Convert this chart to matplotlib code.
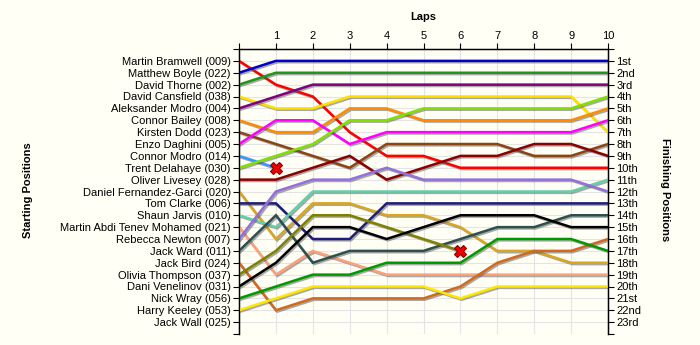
import matplotlib
matplotlib.use("Agg")
import matplotlib.pyplot as plt
import matplotlib.patheffects as pe

plt.rcParams['font.family'] = ['Liberation Sans', 'DejaVu Sans']

laps = list(range(11))
lap_labels = [""] + [str(i) for i in range(1, 11)]

drivers = ["Martin Bramwell (009)", "Matthew Boyle (022)", "David Thorne (002)",
           "David Cansfield (038)", "Aleksander Modro (004)", "Connor Bailey (008)",
           "Kirsten Dodd (023)", "Enzo Daghini (005)", "Connor Modro (014)",
           "Trent Delahaye (030)", "Oliver Livesey (028)", "Daniel Fernandez-Garci (020)",
           "Tom Clarke (006)", "Shaun Jarvis (010)", "Martin Abdi Tenev Mohamed (021)",
           "Rebecca Newton (007)", "Jack Ward (011)", "Jack Bird (024)",
           "Olivia Thompson (037)", "Dani Venelinov (031)", "Nick Wray (056)",
           "Harry Keeley (053)", "Jack Wall (025)"]

finish_labels = ["1st", "2nd", "3rd"] + ["%dth" % i for i in range(4, 21)] + ["21st", "22nd", "23rd"]

# position of each driver at each lap (shorter row = retired)
positions = [
    [1, 3, 4, 7, 9, 9, 10, 10, 10, 10, 10],
    [2, 1, 1, 1, 1, 1, 1, 1, 1, 1, 1],
    [3, 2, 2, 2, 2, 2, 2, 2, 2, 2, 2],
    [4, 5, 5, 4, 4, 4, 4, 4, 4, 4, 7],
    [5, 4, 3, 3, 3, 3, 3, 3, 3, 3, 3],
    [6, 7, 7, 5, 5, 6, 6, 6, 6, 6, 5],
    [7, 8, 9, 10, 8, 8, 8, 8, 9, 9, 8],
    [8, 6, 6, 8, 7, 7, 7, 7, 7, 7, 6],
    [9, 10],
    [10, 9, 8, 6, 6, 5, 5, 5, 5, 5, 4],
    [11, 11, 10, 9, 11, 10, 9, 9, 8, 8, 9],
    [12, 16, 13, 13, 14, 14, 15, 17, 17, 18, 18],
    [13, 13, 16, 16, 13, 13, 13, 13, 13, 13, 13],
    [14, 15, 12, 12, 12, 12, 12, 12, 12, 12, 11],
    [15, 19, 17, 18, 19, 19, 19, 19, 19, 19, 19],
    [16, 12, 11, 11, 10, 11, 11, 11, 11, 11, 12],
    [17, 14, 18, 17, 17, 17, 16, 15, 15, 14, 14],
    [18, 22, 21, 21, 21, 21, 20, 18, 17, 17, 16],
    [19, 17, 14, 14, 15, 16, 17],
    [20, 18, 15, 15, 16, 15, 14, 14, 14, 15, 15],
    [21, 20, 19, 19, 18, 18, 18, 16, 16, 16, 17],
    [22, 21, 20, 20, 20, 20, 21, 20, 20, 20, 20],
    [],
]

colors = ["#FF0000", "#0000CC", "#1E961E", "#FFE000", "#800080", "#FF8C00",
          "#8B4513", "#FF00FF", "#3399FF", "#80E000", "#8B0000", "#DAA520",
          "#1E1E78", "#66CDAA", "#FFA07A", "#9370DB", "#2F4F4F", "#D2691E",
          "#808000", "#000000", "#009900", "#FFE800", "#999999"]

bg = "#FFFFF5"
fig = plt.figure(figsize=(7, 3.45), dpi=100, facecolor=bg)
ax = fig.add_axes([239/700, 1-334/345, (608-239)/700, (334-49)/345])
ax.set_facecolor(bg)

for i in range(len(drivers)):
    row = positions[i]
    if not row:
        continue
    ax.plot(laps[:len(row)], row, color=colors[i], lw=1.8, solid_joinstyle='miter', zorder=3,
            path_effects=[pe.SimpleLineShadow(offset=(1, -1), shadow_color='#555555', alpha=0.5),
                          pe.Normal()])
    if len(row) < len(laps):
        ax.plot(len(row)-1, row[-1], marker='X', ms=8, color='#EE0000', mec='#880000',
                mew=0.8, zorder=5, linestyle='none')

ax.set_xlim(0, 10)
ax.set_ylim(24, 0)
ax.set_xticks(laps)
ax.set_xticklabels(lap_labels)
ax.xaxis.tick_top()
ax.set_yticks(range(25))
ax.set_yticklabels([""] + drivers[:] + [""])
ax.tick_params(axis='both', labelsize=8, length=4, width=0.8, pad=2, colors='black')
ax.grid(True, color='#E4E4E4', lw=0.8, zorder=0)
ax.spines['bottom'].set_visible(False)
for s in ['left', 'top', 'right']:
    ax.spines[s].set_linewidth(1.0)

ax2 = ax.twinx()
ax2.set_ylim(24, 0)
ax2.set_yticks(range(25))
ax2.set_yticklabels([""] + finish_labels + [""])
ax2.tick_params(axis='y', labelsize=8, length=4, width=0.8, pad=2)
ax2.spines['bottom'].set_visible(False)

fig.text(423/700, 1-17/345, "Laps", ha='center', va='center', fontsize=8, fontweight='bold')
fig.text(28/700, 1-190/345, "Starting Positions", ha='center', va='center',
         rotation=90, fontsize=8, fontweight='bold')
fig.text(665/700, 1-190/345, "Finishing Positions", ha='center', va='center',
         rotation=270, fontsize=8, fontweight='bold')

fig.savefig("out.png", dpi=100, facecolor=bg)
